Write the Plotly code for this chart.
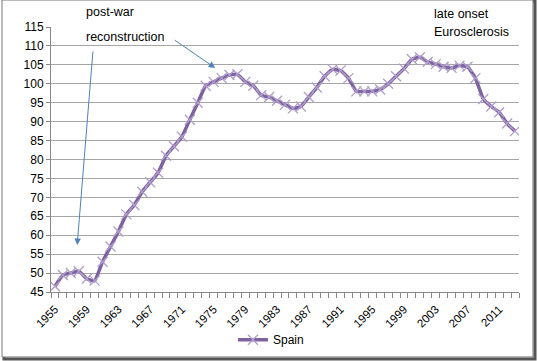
import plotly.graph_objects as go

years = list(range(1955, 2014))
spain = [46.5, 49.5, 50.0, 50.5, 48.5, 48.0, 53.0, 57.0, 61.0, 65.5,
         68.0, 71.5, 74.0, 76.5, 81.0, 83.5, 86.0, 90.5, 95.0, 99.5,
         100.5, 101.5, 102.3, 102.5, 100.5, 99.5, 97.0, 96.5, 95.5, 94.5,
         93.5, 94.0, 96.5, 99.0, 102.0, 103.8, 103.5, 101.5, 98.0, 98.0,
         98.0, 98.5, 100.0, 102.0, 104.0, 106.5, 107.0, 105.8, 105.2, 104.5,
         104.2, 104.8, 104.5, 101.5, 96.0, 94.0, 92.5, 89.5, 87.5]
tick_years = list(range(1955, 2012, 4))
y_ticks = list(range(45, 116, 5))

font = "Liberation Sans"
fig = go.Figure()
fig.add_trace(go.Scatter(
    x=years, y=spain, name="Spain", mode="lines+markers",
    line=dict(color="#7E62A1", width=3.5, shape="spline", smoothing=0.4),
    marker=dict(symbol="x-thin", size=10, line=dict(color="#B09ECB", width=1.3), color="#B09ECB"),
))

fig.update_layout(
    width=539, height=361,
    margin=dict(l=51, r=20, t=27, b=69, autoexpand=False),
    paper_bgcolor="white", plot_bgcolor="white",
    font=dict(family=font, size=12, color="#000"),
    showlegend=True,
    legend=dict(orientation="h", x=0.47, y=-0.18, xanchor="center", yanchor="middle",
                font=dict(size=12), itemwidth=30, bgcolor="rgba(0,0,0,0)"),
    xaxis=dict(range=[1954.5, 2013.5], tickvals=tick_years, ticktext=[str(t) for t in tick_years],
               tickangle=-45, ticks="", showgrid=False, showline=True, linecolor="#888", linewidth=1,
               tickfont=dict(size=11.5), automargin=False, ticklabelstandoff=5,
               minor=dict(ticks="outside", tick0=1954.5, dtick=1, ticklen=5, tickcolor="#888", showgrid=False)),
    yaxis=dict(range=[45, 115], tickvals=y_ticks, showgrid=True, gridcolor="#A6A6A6", gridwidth=1,
               showline=True, linecolor="#888", linewidth=1, ticks="outside", ticklen=4, tickcolor="#888",
               zeroline=False, tickfont=dict(size=12), automargin=False),
)

fig.add_annotation(x=1957.8, y=57.4, ax=1959.8, ay=108.9, axref="x", ayref="y", xref="x", yref="y",
                   text="", showarrow=True, arrowhead=2, arrowsize=1.3, arrowwidth=1, arrowcolor="#4F81BD")
fig.add_annotation(x=1975.2, y=104.2, ax=1969.9, ay=111.8, axref="x", ayref="y", xref="x", yref="y",
                   text="", showarrow=True, arrowhead=2, arrowsize=1.3, arrowwidth=1, arrowcolor="#4F81BD")

for txt, px, py in [("post-war", 84, 12), ("reconstruction", 84, 37),
                    ("late onset", 432, 14), ("Eurosclerosis", 432, 32)]:
    fig.add_annotation(x=(px - 51) / 468, y=(292 - py) / 265, xref="paper", yref="paper",
                       text=txt, showarrow=False, xanchor="left", yanchor="middle",
                       font=dict(size=12.5, family=font))

# outer frame with shadow
fig.add_shape(type="rect", xref="paper", yref="paper",
              x0=(4 - 51) / 468, x1=(535 - 51) / 468, y0=(292 - 359) / 265, y1=(292 - 1) / 265,
              line=dict(color="#555", width=3), fillcolor="rgba(0,0,0,0)", layer="below")
fig.add_shape(type="rect", xref="paper", yref="paper",
              x0=(2 - 51) / 468, x1=(533 - 51) / 468, y0=(292 - 357) / 265, y1=(292 - 0) / 265,
              line=dict(color="#777", width=1), fillcolor="white", layer="below")

fig.write_html("out.html", config={"displayModeBar": False},
               post_script="document.body.style.margin='0px';")
